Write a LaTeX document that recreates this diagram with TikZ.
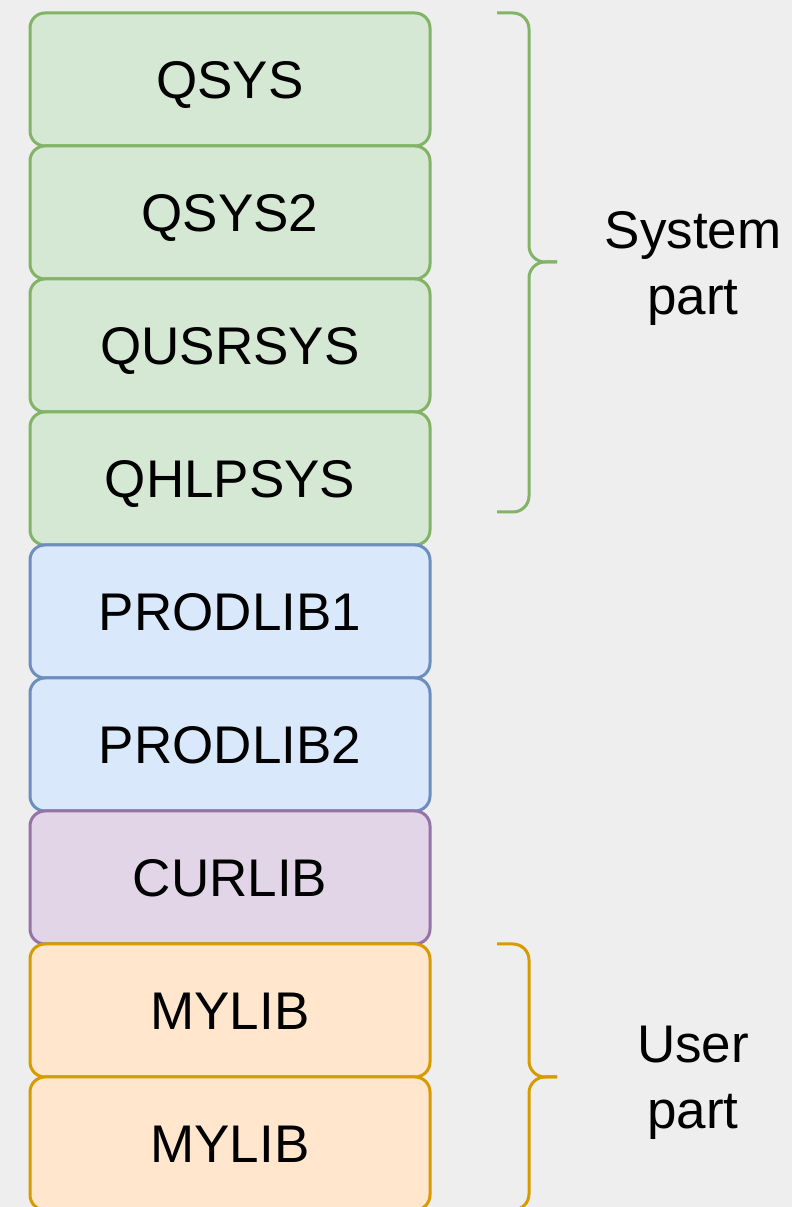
\documentclass[tikz,border=0pt]{standalone}
\usepackage{fontspec}
\setmainfont{Liberation Sans}
\definecolor{bgcol}{HTML}{EEEEEE}
\definecolor{sysfill}{HTML}{D5E8D4}
\definecolor{sysline}{HTML}{82B366}
\definecolor{prodfill}{HTML}{DAE8FC}
\definecolor{prodline}{HTML}{6C8EBF}
\definecolor{curfill}{HTML}{E1D5E7}
\definecolor{curline}{HTML}{9673A6}
\definecolor{usrfill}{HTML}{FFE6CC}
\definecolor{usrline}{HTML}{D79B00}
\tikzset{
  lib/.style={draw,rectangle,rounded corners=7.5bp,line width=1.5bp,
    minimum width=200bp,minimum height=66.5bp,inner sep=0pt,outer sep=0pt,
    text height=19bp,text depth=0pt,
    font=\fontsize{26.5bp}{33bp}\selectfont},
  syslib/.style={lib,draw=sysline,fill=sysfill},
  prodlib/.style={lib,draw=prodline,fill=prodfill},
  curlib/.style={lib,draw=curline,fill=curfill},
  usrlib/.style={lib,draw=usrline,fill=usrfill},
  bracket/.style={line width=1.5bp,rounded corners=8bp},
  partlabel/.style={align=center,font=\fontsize{26.5bp}{33bp}\selectfont},
}
\begin{document}
\begin{tikzpicture}[line join=round]
%%
\useasboundingbox (0bp,0bp) rectangle (396bp,603.5bp);
\fill[bgcol] (0bp,0bp) rectangle (396bp,603.5bp);
%%
\node (qsys) at (115.0bp,563.75bp) [syslib] {QSYS};
  \node (qsys2) at (115.0bp,497.25bp) [syslib] {QSYS2};
  \node (qusrsys) at (115.0bp,430.75bp) [syslib] {QUSRSYS};
  \node (qhlpsys) at (115.0bp,364.25bp) [syslib] {QHLPSYS};
  \node (prodlib1) at (115.0bp,297.75bp) [prodlib] {PRODLIB1};
  \node (prodlib2) at (115.0bp,231.25bp) [prodlib] {PRODLIB2};
  \node (curlib) at (115.0bp,164.75bp) [curlib] {CURLIB};
  \node (mylib1) at (115.0bp,98.25bp) [usrlib] {MYLIB};
  \node (mylib2) at (115.0bp,31.75bp) [usrlib] {MYLIB};
%
  \coordinate (systop) at (248.5bp,597.0bp);
  \coordinate (systip) at (278.5bp,472.5bp);
  \coordinate (sysbot) at (248.5bp,347.5bp);
  \draw [bracket,sysline] (systop) -| (264.5bp,472.5bp) -- (systip);
  \draw [bracket,sysline] (systip) -- (264.5bp,472.5bp) |- (sysbot);
  \node (system) at (346.5bp,469.0bp) [partlabel] {System\\part};
%
  \coordinate (usrtop) at (248.5bp,131.5bp);
  \coordinate (usrtip) at (278.5bp,65.0bp);
  \coordinate (usrbot) at (248.5bp,-1.5bp);
  \draw [bracket,usrline] (usrtop) -| (264.5bp,65.0bp) -- (usrtip);
  \draw [bracket,usrline] (usrtip) -- (264.5bp,65.0bp) |- (usrbot);
  \node (user) at (346.5bp,62.0bp) [partlabel] {User\\part};
%
\end{tikzpicture}
\end{document}
